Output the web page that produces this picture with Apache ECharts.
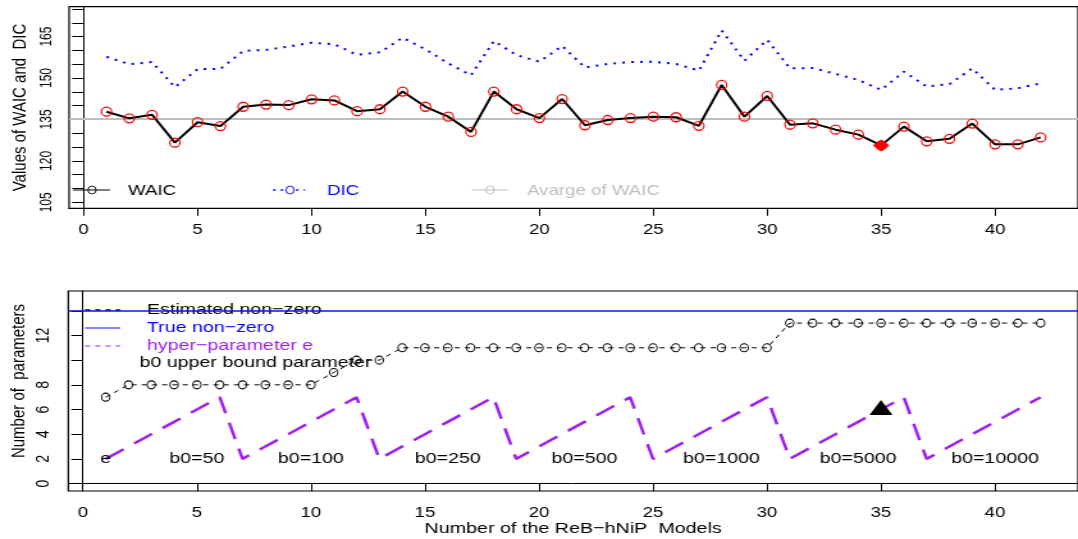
<!DOCTYPE html>
<html><head><meta charset="utf-8">
<script src="https://cdn.jsdelivr.net/npm/echarts@6/dist/echarts.min.js"></script>
<style>
html,body{margin:0;padding:0;overflow:hidden;background:#fff;width:1078px;height:539px;}
#c{width:842px;height:539px;transform:scaleX(1.2802850356);transform-origin:0 0;}
</style></head><body><div id="c"></div>
<script>
// ---------- data ----------
const models = [1,2,3,4,5,6,7,8,9,10,11,12,13,14,15,16,17,18,19,20,21,22,23,24,25,26,27,28,29,30,31,32,33,34,35,36,37,38,39,40,41,42];
const waic = [137.8,135.4,136.7,126.6,134.0,132.6,139.6,140.4,140.2,142.3,141.9,138.0,138.7,145.1,139.6,136.0,130.5,145.1,138.7,135.5,142.4,132.9,134.8,135.5,136.0,135.8,132.7,147.5,136.0,143.5,133.1,133.6,131.3,129.5,125.6,132.4,127.1,128.0,133.5,126.0,126.0,128.5];
const dic = [157.7,155.0,155.8,146.7,153.2,153.3,159.8,160.2,161.4,162.8,162.2,158.4,159.3,164.6,160.4,155.3,151.0,163.4,158.3,155.9,161.6,153.8,155.1,155.8,155.9,155.1,152.7,167.2,156.3,163.8,153.5,153.6,151.5,149.3,145.7,152.3,146.9,147.8,153.5,145.7,146.3,148.1];
const avgWaic = 135.4;
const bestModel = 35;
const bestWaic = 125.6;
const estNonZero = [7,8,8,8,8,8,8,8,8,8,9,10,10,11,11,11,11,11,11,11,11,11,11,11,11,11,11,11,11,11,13,13,13,13,13,13,13,13,13,13,13,13];
const trueNonZero = 14;
const hyperE = [2,3,4,5,6,7,2,3,4,5,6,7,2,3,4,5,6,7,2,3,4,5,6,7,2,3,4,5,6,7,2,3,4,5,6,7,2,3,4,5,6,7];
const b0Labels = ['b0=50','b0=100','b0=250','b0=500','b0=1000','b0=5000','b0=10000'];
const b0LabelX = [5,10,16,22,28,34,40];
const b0LabelY = 2;
const eLabel = {x:1, y:2, text:'e'};
const b0Title = {x:7.57, y:9.75, text:'b0 upper bound parameter'};
const triangleMark = [35, 6];
const xTicks = [0,5,10,15,20,25,30,35,40];
const topYTicks = [105,110,115,120,125,130,135,140,145,150,155,160,165,170,175];
const topYLabels = [105,120,135,150,165];
const botYTicks = [0,2,4,6,8,10,12,14];
const botYLabels = [0,2,4,6,8,12];

// ---------- layout helpers ----------
const SX = 1078/842;           // horizontal stretch applied by CSS
const R = v => v / SX;         // real px -> chart px (x only)
const FF = 'Liberation Sans';
const BLUE = '#0000FF', PURPLE = '#A020F0', GRAY = '#BEBEBE';

const pairs = arr => models.map((m,i)=>[m, arr[i]]);

function xAxisCfg(idx, withName){
  const a = {
    type:'value', gridIndex:idx, min:-0.64, max:43.64,
    axisLine:{show:true, lineStyle:{color:'#000', width:1}},
    splitLine:{show:false},
    axisTick:{show:true, length:7.5, customValues:xTicks, lineStyle:{color:'#000', width:1}},
    axisLabel:{customValues:xTicks, margin:14.5, fontSize:14.5, fontFamily:FF, color:'#000'}
  };
  if (withName){
    a.name = 'Number of the ReB\u2212hNiP  Models';
    a.nameLocation = 'middle';
    a.nameGap = 30.5;
    a.nameTextStyle = {fontSize:15.4, fontFamily:FF, color:'#000'};
  }
  return a;
}

const option = {
  animation:false,
  backgroundColor:'#fff',
  grid:[
    {left:R(68.3), top:6.7, width:R(1015.4), height:201.6, show:true, borderColor:'#000', borderWidth:1.2, containLabel:false},
    {left:R(68.3), top:291, width:R(1015.4), height:200, show:true, borderColor:'#000', borderWidth:1.2, containLabel:false}
  ],
  xAxis:[xAxisCfg(0,false), xAxisCfg(1,true)],
  yAxis:[
    {type:'value', gridIndex:0, min:102.83, max:175.83,
     axisLine:{show:true, lineStyle:{color:'#000'}}, splitLine:{show:false},
     axisTick:{show:true, length:9, customValues:topYTicks, lineStyle:{color:'#000'}},
     axisLabel:{customValues:topYLabels, rotate:90, margin:11, fontSize:12, fontFamily:FF, color:'#000'},
     name:'Values of WAIC and  DIC', nameLocation:'middle', nameRotate:90, nameGap:31,
     nameTextStyle:{fontSize:15, fontFamily:FF, color:'#000'}},
    {type:'value', gridIndex:1, min:-0.6, max:15.6,
     axisLine:{show:true, lineStyle:{color:'#000'}}, splitLine:{show:false},
     axisTick:{show:true, length:9, customValues:botYTicks, lineStyle:{color:'#000'}},
     axisLabel:{customValues:botYLabels, rotate:90, margin:12, fontSize:14, fontFamily:FF, color:'#000'}}
  ],
  series:[
    {name:'DIC', type:'line', xAxisIndex:0, yAxisIndex:0, data:pairs(dic), symbol:'none', silent:true,
     lineStyle:{color:BLUE, width:2, type:[2,5]}},
    {name:'WAIC', type:'line', xAxisIndex:0, yAxisIndex:0, data:pairs(waic), silent:true, z:3,
     symbol:'circle', symbolSize:[8,9],
     lineStyle:{color:'#000', width:2},
     itemStyle:{color:'rgba(0,0,0,0)', borderColor:'#FF0000', borderWidth:1.2},
     markLine:{silent:true, z:1, symbol:['none','none'], label:{show:false},
       lineStyle:{color:GRAY, width:2, type:'solid', opacity:1}, data:[{yAxis:avgWaic}]}},
    {name:'Best', type:'scatter', xAxisIndex:0, yAxisIndex:0, data:[[bestModel,bestWaic]], silent:true, z:5,
     symbol:'diamond', symbolSize:[13,12], itemStyle:{color:'#FF0000', opacity:1}},
    {name:'True non-zero', type:'line', xAxisIndex:1, yAxisIndex:1, data:[], silent:true, z:2,
     symbol:'none', itemStyle:{color:BLUE}, lineStyle:{color:BLUE},
     markLine:{silent:true, symbol:['none','none'], label:{show:false},
       lineStyle:{color:'#1010FF', width:1.6, type:'solid', opacity:1},
       data:[{yAxis:trueNonZero}]}},
    {name:'hyper-parameter e', type:'line', xAxisIndex:1, yAxisIndex:1, data:pairs(hyperE), symbol:'none', silent:true,
     lineStyle:{color:PURPLE, width:2.5, type:[17,10]}},
    {name:'Estimated non-zero', type:'line', xAxisIndex:1, yAxisIndex:1, data:pairs(estNonZero), silent:true, z:3,
     symbol:'circle', symbolSize:[6.5,8],
     lineStyle:{color:'#000', width:1, type:[4,4]},
     itemStyle:{color:'rgba(0,0,0,0)', borderColor:'#000', borderWidth:1}},
    {name:'Marker', type:'scatter', xAxisIndex:1, yAxisIndex:1, data:[triangleMark], silent:true, z:5,
     symbol:'triangle', symbolSize:[18,15], symbolOffset:[0,-2], itemStyle:{color:'#000', opacity:1}},
    {name:'Texts', type:'scatter', xAxisIndex:1, yAxisIndex:1, silent:true, z:6,
     symbolSize:1, itemStyle:{color:'rgba(0,0,0,0)', opacity:1},
     data: b0Labels.map((t,i)=>({name:t, value:[b0LabelX[i], b0LabelY]}))
       .concat([{name:eLabel.text, value:[eLabel.x, eLabel.y]}, {name:b0Title.text, value:[b0Title.x, b0Title.y]}]),
     label:{show:true, position:'inside', formatter:'{b}', fontSize:15.3, fontFamily:FF, color:'#000', opacity:1}}
  ],
  graphic:[
    // top legend
    {type:'line', shape:{x1:R(73), y1:190, x2:R(110), y2:190}, style:{stroke:'#000', lineWidth:1}},
    {type:'circle', x:R(92), y:190, scaleX:1/SX, shape:{cx:0, cy:0, r:4}, style:{fill:'none', stroke:'#000', lineWidth:1}},
    {type:'text', x:R(128), y:190.5, style:{text:'WAIC', fill:'#000', fontSize:14.6, fontFamily:FF, align:'left', verticalAlign:'middle'}},
    {type:'line', shape:{x1:R(273), y1:190, x2:R(305), y2:190}, style:{stroke:BLUE, lineWidth:1.5, lineDash:[2,4]}},
    {type:'circle', x:R(290), y:190, scaleX:1/SX, shape:{cx:0, cy:0, r:4}, style:{fill:'#fff', stroke:BLUE, lineWidth:1}},
    {type:'text', x:R(327), y:190.5, style:{text:'DIC', fill:BLUE, fontSize:14.6, fontFamily:FF, align:'left', verticalAlign:'middle'}},
    {type:'line', shape:{x1:R(472), y1:190, x2:R(508), y2:190}, style:{stroke:GRAY, lineWidth:1}},
    {type:'circle', x:R(490), y:190, scaleX:1/SX, shape:{cx:0, cy:0, r:4}, style:{fill:'none', stroke:GRAY, lineWidth:1}},
    {type:'text', x:R(527), y:190.5, style:{text:'Avarge of WAIC', fill:GRAY, fontSize:14.6, fontFamily:FF, align:'left', verticalAlign:'middle'}},
    // bottom legend
    {type:'line', shape:{x1:R(85), y1:310, x2:R(120), y2:310}, style:{stroke:'#000', lineWidth:1.5, lineDash:[4,4]}},
    {type:'text', x:R(147), y:309.5, style:{text:'Estimated non\u2212zero', fill:'#000', fontSize:15.3, fontFamily:FF, align:'left', verticalAlign:'middle'}},
    {type:'line', shape:{x1:R(85), y1:328, x2:R(120), y2:328}, style:{stroke:BLUE, lineWidth:1}},
    {type:'text', x:R(147), y:328, style:{text:'True non\u2212zero', fill:BLUE, fontSize:15.3, fontFamily:FF, align:'left', verticalAlign:'middle'}},
    {type:'line', shape:{x1:R(85), y1:346, x2:R(120), y2:346}, style:{stroke:PURPLE, lineWidth:1, lineDash:[4,4]}},
    {type:'text', x:R(147), y:346, style:{text:'hyper\u2212parameter e', fill:PURPLE, fontSize:15.3, fontFamily:FF, align:'left', verticalAlign:'middle'}},
    // bottom y-axis title
    {type:'text', x:R(19), y:381, rotation:Math.PI/2, style:{text:'Number of  parameters', fill:'#000', fontSize:15, fontFamily:FF, align:'center', verticalAlign:'middle'}}
  ]
};
const chart = echarts.init(document.getElementById('c'));
chart.setOption(option);
</script></body></html>
